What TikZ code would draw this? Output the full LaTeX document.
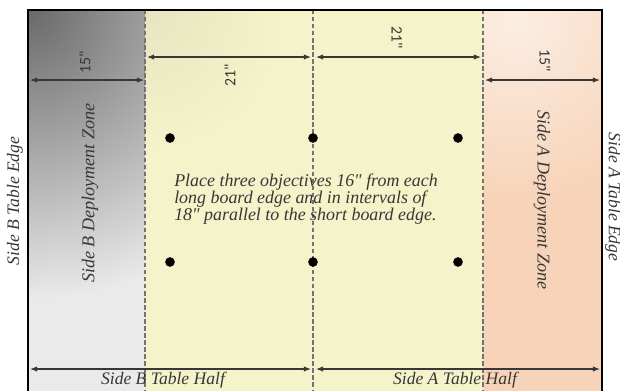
\documentclass[tikz,border=0pt]{standalone}
\usepackage{fontspec}
\setmainfont{Liberation Serif}[Ligatures=TeXOff]
\newfontfamily\dimfont{Carlito}
\usetikzlibrary{positioning,arrows.meta,calc}
\definecolor{zonegray}{RGB}{234,234,234}
\definecolor{zonedark}{RGB}{105,105,105}
\definecolor{midyellow}{RGB}{245,243,201}
\definecolor{zonepeach}{RGB}{247,212,185}
\definecolor{textgray}{RGB}{55,55,55}

\begin{document}
\begin{tikzpicture}[x=0.02cm,y=-0.02cm,>={Latex[length=4pt,width=3pt]},
  dimarrow/.style={<->,line width=0.6pt,draw=textgray},
  zoneline/.style={dash pattern=on 2.5pt off 1.5pt,line width=0.6pt,draw=black!55},
  objective/.style={circle,fill=black,inner sep=0pt,minimum size=5.5pt},
  sidelabel/.style={font=\itshape\fontsize{10}{12}\selectfont,text=textgray},
  dimlabel/.style={font=\dimfont\fontsize{9}{10}\selectfont,text=textgray}]
  \clip (0,0) rectangle (620,390);
  % ---- board edges and zone lines ----
  \coordinate (edgeB) at (28,10);
  \coordinate (zoneB) at (145,10);
  \coordinate (mid) at (313,10);
  \coordinate (zoneA) at (483,10);
  \coordinate (edgeA) at (602,10);
  % ---- zone fills ----
  \fill[midyellow] (zoneB) rectangle (483,395);
  \begin{scope}
    \clip (zoneB) rectangle (483,395);
    \shade[inner color=midyellow!88!gray,outer color=midyellow] (zoneB) circle (140);
  \end{scope}
  \fill[zonegray] (edgeB) rectangle (145,395);
  \begin{scope}
    \clip (edgeB) rectangle (145,395);
    \shade[inner color=zonedark,outer color=zonegray] (edgeB) circle (290);
  \end{scope}
  \fill[zonepeach] (zoneA) rectangle (602,395);
  \begin{scope}
    \clip (zoneA) rectangle (602,395);
    \shade[inner color=zonepeach!40!white,outer color=zonepeach] (515,18) circle (180);
  \end{scope}
  \foreach \z in {zoneB,mid,zoneA} \draw[zoneline] (\z) -- ($(\z)+(0,385)$);
  \draw[line width=1.3pt] (edgeB) rectangle (602,395);
  % ---- top measurements ----
  \draw[dimarrow] ($(edgeB)+(2,70)$) -- ($(zoneB)+(-1,70)$);
  \draw[dimarrow] ($(zoneB)+(2,47)$) -- ($(mid)+(-2,47)$);
  \draw[dimarrow] ($(mid)+(3,47)$) -- ($(zoneA)+(-2,47)$);
  \draw[dimarrow] ($(zoneA)+(2,70)$) -- ($(edgeA)+(-2,70)$);
  \node[dimlabel,rotate=90] (lenB) at (85,62) {15"};
  \node[dimlabel,rotate=90] (midB) at (230,75) {21"};
  \node[dimlabel,rotate=-90] (midA) at (397,38) {21"};
  \node[dimlabel,rotate=-90] (lenA) at (545,61) {15"};
  % ---- objectives ----
  \foreach \x/\n in {170/1,313/2,458/3} {
    \node[objective] (obj\n top) at (\x,138) {};
    \node[objective] (obj\n bot) at (\x,262) {};
  }
  \node[sidelabel,font=\itshape\fontsize{10.2}{9.8}\selectfont,align=left] (note) at (306,199)
    {Place three objectives 16" from each\\long board edge and in intervals of\\18" parallel to the short board edge.};
  % ---- side labels ----
  \node[sidelabel,rotate=90] (tableB) at (15,201) {Side B Table Edge};
  \node[sidelabel,rotate=-90] (tableA) at (613,197) {Side A Table Edge};
  \node[sidelabel,font=\itshape\fontsize{10.3}{12}\selectfont,rotate=90] (deployB) at (90,193) {Side B Deployment Zone};
  \node[sidelabel,font=\itshape\fontsize{10.3}{12}\selectfont,rotate=-90] (deployA) at (542,200) {Side A Deployment Zone};
  % ---- table halves ----
  \draw[dimarrow] ($(edgeB)+(2,359)$) -- ($(mid)+(-2,359)$);
  \draw[dimarrow] ($(mid)+(3,359)$) -- ($(edgeA)+(-2,359)$);
  \node[sidelabel] (halfB) at (163,380) {Side B Table Half};
  \node[sidelabel] (halfA) at (455,380) {Side A Table Half};
\end{tikzpicture}
\end{document}
